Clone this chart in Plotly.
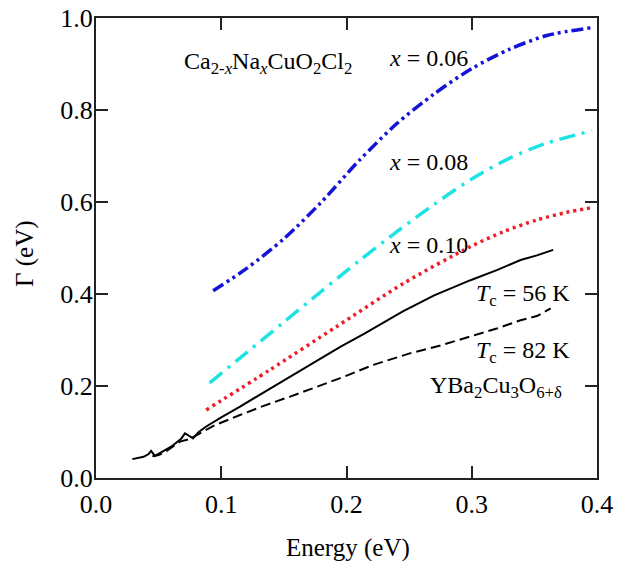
import plotly.graph_objects as go

# x = 0.06 (blue, dash-dot-dot)
e06 = [0.0935, 0.12, 0.15, 0.18, 0.21, 0.24, 0.27, 0.30, 0.33, 0.36, 0.396]
g06 = [0.407, 0.455, 0.520, 0.600, 0.690, 0.770, 0.835, 0.890, 0.932, 0.962, 0.979]

# x = 0.08 (cyan, dash-dot)
e08 = [0.0908, 0.12, 0.15, 0.18, 0.21, 0.24, 0.27, 0.30, 0.33, 0.36, 0.396]
g08 = [0.207, 0.272, 0.339, 0.406, 0.472, 0.535, 0.595, 0.650, 0.695, 0.728, 0.755]

# x = 0.10 (red, dotted)
e10 = [0.088, 0.1388, 0.192, 0.2455, 0.299, 0.325, 0.352, 0.375, 0.397]
g10 = [0.148, 0.235, 0.329, 0.423, 0.503, 0.535, 0.561, 0.577, 0.588]

# YBCO Tc = 56 K (solid black)
e56 = [0.029, 0.033, 0.038, 0.042, 0.044, 0.047, 0.052, 0.060, 0.068, 0.071,
       0.073, 0.0775, 0.082, 0.088, 0.100, 0.115, 0.135, 0.155, 0.175, 0.195,
       0.215, 0.245, 0.270, 0.299, 0.320, 0.339, 0.352, 0.365]
g56 = [0.041, 0.043, 0.046, 0.052, 0.059, 0.048, 0.055, 0.068, 0.085, 0.097,
       0.094, 0.086, 0.100, 0.112, 0.132, 0.155, 0.188, 0.220, 0.252, 0.285,
       0.315, 0.362, 0.397, 0.430, 0.452, 0.474, 0.484, 0.496]

# YBCO Tc = 82 K (dashed black)
e82 = [0.045, 0.050, 0.055, 0.060, 0.067, 0.075, 0.083, 0.095, 0.115, 0.135,
       0.155, 0.175, 0.195, 0.2215, 0.2505, 0.275, 0.299, 0.320, 0.339, 0.352, 0.363]
g82 = [0.047, 0.050, 0.056, 0.066, 0.079, 0.085, 0.097, 0.115, 0.137, 0.158,
       0.177, 0.197, 0.217, 0.246, 0.271, 0.288, 0.307, 0.325, 0.343, 0.352, 0.369]

xticks = [0.0, 0.1, 0.2, 0.3, 0.4]
yticks = [0.0, 0.2, 0.4, 0.6, 0.8, 1.0]

FONT = "Liberation Serif, Times New Roman, DejaVu Serif, serif"

fig = go.Figure()
fig.add_trace(go.Scatter(x=e06, y=g06, mode="lines", line=dict(color="#1414d6", width=3.5, dash="12px,4px,3px,4px,3px,4px", shape="spline", smoothing=0.8)))
fig.add_trace(go.Scatter(x=e08, y=g08, mode="lines", line=dict(color="#1ee3e3", width=3.5, dash="16px,7px,3px,7px", shape="spline", smoothing=0.8)))
fig.add_trace(go.Scatter(x=e10, y=g10, mode="lines", line=dict(color="#f01c28", width=3.5, dash="3px,4px", shape="spline", smoothing=0.8)))
fig.add_trace(go.Scatter(x=e56, y=g56, mode="lines", line=dict(color="black", width=2)))
fig.add_trace(go.Scatter(x=e82, y=g82, mode="lines", line=dict(color="black", width=2, dash="10px,5px")))

ann_font = dict(family=FONT, size=24, color="black")
labels = [
    (0.069, 0.903, "Ca<sub>2-<i>x</i></sub>Na<sub><i>x</i></sub>CuO<sub>2</sub>Cl<sub>2</sub>"),
    (0.232, 0.913, "<i>x</i> = 0.06"),
    (0.232, 0.687, "<i>x</i> = 0.08"),
    (0.232, 0.507, "<i>x</i> = 0.10"),
    (0.302, 0.398, "<i>T</i><sub>c</sub> = 56 K"),
    (0.302, 0.274, "<i>T</i><sub>c</sub> = 82 K"),
    (0.265, 0.198, "YBa<sub>2</sub>Cu<sub>3</sub>O<sub>6+δ</sub>"),
]
for x, y, t in labels:
    fig.add_annotation(x=x, y=y, text=t, showarrow=False, xanchor="left", yanchor="middle", font=ann_font)

# axis titles
title_font = dict(family=FONT, size=25, color="black")
fig.add_annotation(xref="paper", yref="paper", x=0.503, y=-0.152, text="Energy (eV)",
                   showarrow=False, xanchor="center", yanchor="middle", font=title_font)
fig.add_annotation(xref="paper", yref="paper", x=-0.142, y=0.489, text="Γ (eV)", textangle=-90,
                   showarrow=False, xanchor="center", yanchor="middle", font=title_font)

axis_common = dict(
    showline=True, linecolor="#222", linewidth=2, mirror="ticks",
    ticks="inside", ticklen=12, tickwidth=1.5, tickcolor="#222",
    showgrid=False, zeroline=False, automargin=False,
    tickfont=dict(family=FONT, size=26, color="black"),
)

fig.update_layout(
    width=624, height=561,
    margin=dict(l=96, r=27, t=18, b=83),
    plot_bgcolor="white", paper_bgcolor="white",
    showlegend=False,
    xaxis=dict(range=[0, 0.4], tickvals=xticks, ticktext=[f"{v:.1f}" for v in xticks],
               ticklabelstandoff=2, **axis_common),
    yaxis=dict(range=[0, 1.0], tickvals=yticks, ticktext=[f"{v:.1f}" for v in yticks],
               ticklabelstandoff=-4, **axis_common),
)

fig.write_html("out.html")
